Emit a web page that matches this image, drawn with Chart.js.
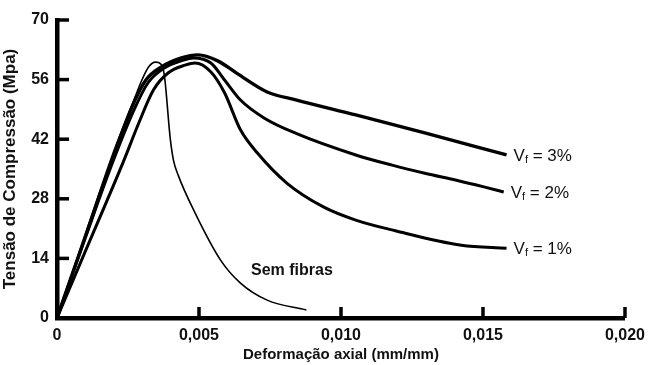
<!DOCTYPE html>
<html>
<head>
<meta charset="utf-8">
<script src="https://cdn.jsdelivr.net/npm/chart.js@4"></script>
<style>
  html, body { margin: 0; padding: 0; background: #fff; }
  #wrap { width: 653px; height: 365px; }
</style>
</head>
<body>
<div id="wrap"><canvas id="chart" width="653" height="365"></canvas></div>
<script>
// Curves (strain in mm/mm, stress in MPa)
const xTicks = [0, 0.005, 0.010, 0.015, 0.020];
const yTicks = [0, 14, 28, 42, 56, 70];

const vf3X = [0, 0.001, 0.00194, 0.00264, 0.00313, 0.00368, 0.00438, 0.00497, 0.00566, 0.00635, 0.0074, 0.00844, 0.01052, 0.01295, 0.01583];
const vf3Y = [0, 19.2, 37.1, 49.6, 55.9, 59.0, 61.1, 61.8, 60.4, 57.4, 53.1, 51.2, 47.7, 43.5, 38.3];

const vf2X = [0, 0.001, 0.00199, 0.00272, 0.0032, 0.00375, 0.00445, 0.0048, 0.00542, 0.0059, 0.00646, 0.00729, 0.00844, 0.01052, 0.0118, 0.01295, 0.0141, 0.01503, 0.01573];
const vf2Y = [0, 18.9, 37.1, 49.0, 55.2, 58.6, 60.6, 61.1, 59.9, 55.9, 51.2, 47.0, 43.3, 38.3, 35.9, 34.0, 32.3, 30.8, 29.6];

const vf1X = [0, 0.001, 0.00236, 0.00288, 0.0034, 0.00392, 0.00451, 0.00486, 0.00542, 0.0059, 0.00646, 0.00705, 0.00809, 0.00938, 0.01052, 0.01191, 0.01424, 0.01583];
const vf1Y = [0, 15.7, 37.1, 45.8, 53.6, 57.6, 59.4, 59.9, 57.8, 52.9, 44.2, 38.8, 31.7, 26.1, 23.0, 20.5, 17.1, 16.4];

const semX = [0, 0.001, 0.002, 0.00264, 0.00299, 0.00323, 0.00347, 0.00365, 0.00378, 0.00399, 0.0041, 0.00427, 0.00486, 0.00576, 0.00646, 0.0074, 0.00878];
const semY = [0, 19.7, 39.2, 50.0, 55.9, 59.0, 60.1, 59.7, 57.0, 42.0, 37.1, 33.5, 24.7, 13.6, 8.2, 4.2, 1.9];

const curveLabels = ['3%', '2%', '1%', 'Sem fibras'];

function toPoints(xs, ys) {
  return xs.map((x, i) => ({ x: x, y: ys[i] }));
}

const FONT = '"Liberation Sans", Arial, sans-serif';

// inner tick marks + curve labels
const extras = {
  id: 'extras',
  afterDraw(chart) {
    const c = chart.ctx;
    const xs = chart.scales.x;
    const ys = chart.scales.y;
    const area = chart.chartArea;
    c.save();
    c.strokeStyle = '#000';
    c.lineWidth = 3.5;
    xTicks.slice(1).forEach(v => {
      const px = xs.getPixelForValue(v);
      c.beginPath();
      c.moveTo(px, area.bottom);
      c.lineTo(px, area.bottom - 11);
      c.stroke();
    });
    yTicks.slice(1).forEach(v => {
      const py = ys.getPixelForValue(v);
      c.beginPath();
      c.moveTo(area.left, py);
      c.lineTo(area.left + 12, py);
      c.stroke();
    });

    c.fillStyle = '#111';
    c.textBaseline = 'middle';
    c.textAlign = 'left';
    const ends = [[vf3X, vf3Y], [vf2X, vf2Y], [vf1X, vf1Y]];
    ends.forEach((e, i) => {
      const last = e[0].length - 1;
      let px = xs.getPixelForValue(e[0][last]) + 7;
      const py = ys.getPixelForValue(e[1][last]) + 1;
      c.font = '17px ' + FONT;
      c.fillText('V', px, py);
      px += c.measureText('V').width;
      c.font = '11px ' + FONT;
      c.fillText('f', px, py + 4);
      px += c.measureText('f').width;
      c.font = '17px ' + FONT;
      c.fillText(' = ' + curveLabels[i], px, py);
    });
    c.font = 'bold 16px ' + FONT;
    c.fillText(curveLabels[3], xs.getPixelForValue(0.00683), ys.getPixelForValue(11.2));
    c.restore();
  }
};

const ds = (xs, ys, w) => ({
  data: toPoints(xs, ys),
  borderColor: '#000',
  borderWidth: w,
  pointRadius: 0,
  cubicInterpolationMode: 'monotone',
  fill: false
});

new Chart(document.getElementById('chart'), {
  type: 'line',
  data: {
    datasets: [
      ds(vf3X, vf3Y, 3.4),
      ds(vf2X, vf2Y, 3),
      ds(vf1X, vf1Y, 3),
      ds(semX, semY, 1.6)
    ]
  },
  options: {
    responsive: false,
    animation: false,
    events: [],
    layout: { padding: { top: 20, right: 20, left: 0, bottom: 0 } },
    plugins: { legend: { display: false }, tooltip: { enabled: false } },
    scales: {
      x: {
        type: 'linear',
        min: 0,
        max: 0.020,
        afterBuildTicks: s => { s.ticks = xTicks.map(v => ({ value: v })); },
        afterFit: s => { s.height = 47; },
        grid: { display: false, drawTicks: false },
        border: { color: '#000', width: 4.5 },
        ticks: {
          padding: 8,
          color: '#111',
          font: { family: FONT, size: 16, weight: 'bold' },
          maxRotation: 0,
          callback: v => v === 0 ? '0' : v.toFixed(3).replace('.', ',')
        },
        title: {
          display: true,
          text: 'Deformação axial (mm/mm)',
          color: '#111',
          font: { family: FONT, size: 15, weight: 'bold' },
          padding: { top: 0, bottom: 1 }
        }
      },
      y: {
        min: 0,
        max: 70,
        afterBuildTicks: s => { s.ticks = yTicks.map(v => ({ value: v })); },
        afterFit: s => { s.width = 57; },
        grid: { display: false, drawTicks: false },
        border: { color: '#000', width: 4.5 },
        ticks: {
          padding: 8,
          color: '#111',
          font: { family: FONT, size: 16, weight: 'bold' }
        },
        title: {
          display: true,
          text: 'Tensão de Compressão (Mpa)',
          color: '#111',
          font: { family: FONT, size: 17, weight: 'bold' },
          padding: { top: 0, bottom: 0 }
        }
      }
    }
  },
  plugins: [extras]
});
</script>
</body>
</html>
